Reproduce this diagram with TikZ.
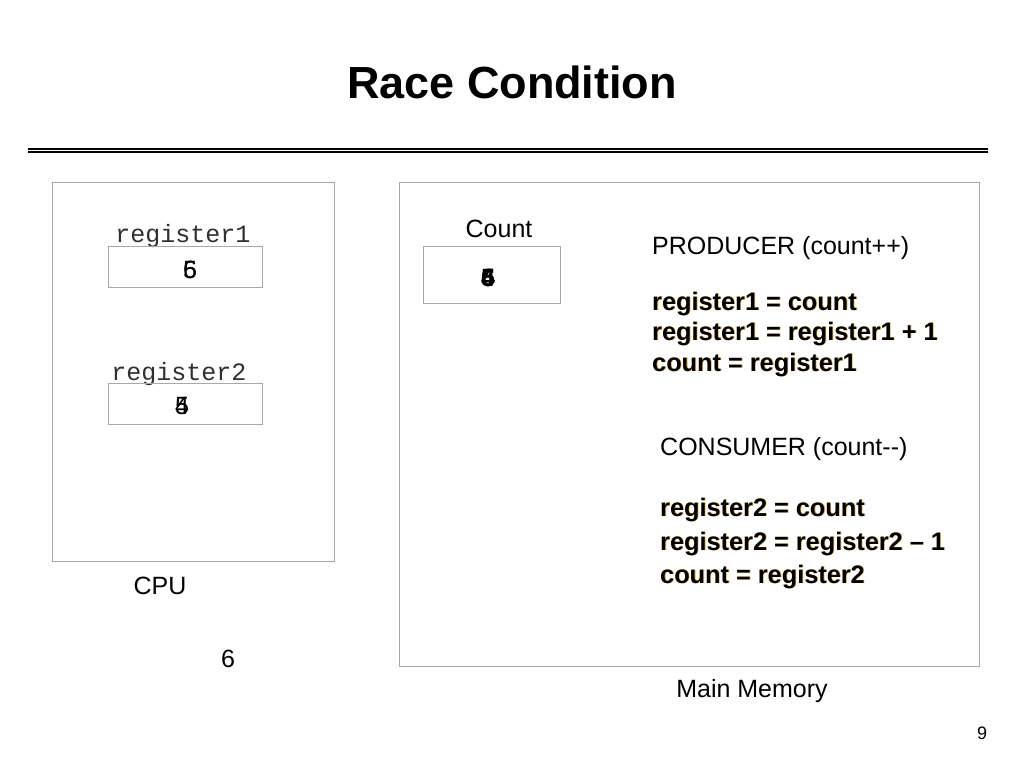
\documentclass[tikz,border=0pt]{standalone}
\usepackage{fontspec}
\setmainfont{Liberation Sans}
\setmonofont{Liberation Mono}
\definecolor{boxgray}{HTML}{A8A8A8}
\definecolor{shadoworange}{HTML}{E8B040}
\definecolor{monotext}{HTML}{303030}
\newcommand{\ovl}[2]{\rlap{#1}#2}
\begin{document}
\begin{tikzpicture}[x=1pt,y=-1pt,
  frame/.style={draw=boxgray,line width=1pt},
  txt/.style={inner sep=0pt,font=\fontsize{25}{30}\selectfont},
  mono/.style={inner sep=0pt,text=monotext,font=\fontsize{25}{30}\selectfont\ttfamily},
  code/.style={inner sep=0pt,font=\fontsize{25.3}{30}\selectfont\bfseries,anchor=base west},
  codeshadow/.style={code,text=shadoworange}]
\useasboundingbox[fill=white] (0,0) rectangle (1024,768);
% title
\node[inner sep=0pt,anchor=base,font=\fontsize{45}{54}\selectfont\bfseries] (title) at (512,98) {Race Condition};
\draw[line width=2pt] (28,148.5) coordinate (r1a) -- (988,148.5) coordinate (r1b);
\draw[line width=1.2pt] (28,152) coordinate (r2a) -- (988,152) coordinate (r2b);
% CPU
\node[frame,minimum width=282pt,minimum height=379pt,inner sep=0pt] (cpu) at (193,371.5) {};
\node[mono,anchor=base] (r1lab) at (183,242) {register1};
\node[frame,minimum width=154pt,minimum height=41pt,inner sep=0pt] (r1box) at (185,266.5) {};
\node[txt,anchor=base] (r1val) at (190,278) {\ovl{5}{6}};
\node[mono,anchor=base] (r2lab) at (179,380) {register2};
\node[frame,minimum width=154pt,minimum height=41pt,inner sep=0pt] (r2box) at (185,403.5) {};
\node[txt,anchor=base] (r2val) at (182,414) {\ovl{4}{5}};
\node[txt,anchor=base] (cpulab) at (160,594) {CPU};
\node[txt,anchor=base] (six) at (228,667) {6};
% Memory
\node[frame,minimum width=580pt,minimum height=484pt,inner sep=0pt] (mem) at (689,424) {};
\node[txt,anchor=base] (countlab) at (499,237) {Count};
\node[frame,minimum width=137pt,minimum height=57pt,inner sep=0pt] (countbox) at (491.5,274.5) {};
\node[txt,anchor=base,font=\fontsize{25}{30}\selectfont\bfseries] (countval) at (488,286) {\ovl{4}{\ovl{5}{6}}};
\node[txt,anchor=base west] (prod) at (652,254) {PRODUCER (count++)};
\foreach \y/\t [count=\i] in {310/{register1 = count},340/{register1 = register1 + 1},371/{count = register1}} {
  \node[codeshadow] (ps\i) at (652.8,\y+0.8) {\t};
  \node[code] (p\i) at (652,\y) {\t};
}
\node[txt,anchor=base west] (cons) at (660,455) {CONSUMER (count-{}-)};
\foreach \y/\t [count=\i] in {516/{register2 = count},550/{register2 = register2 -- 1},583/{count = register2}} {
  \node[codeshadow] (cs\i) at (660.8,\y+0.8) {\t};
  \node[code] (c\i) at (660,\y) {\t};
}
\node[txt,anchor=base] (memlab) at (752,697) {Main Memory};
\node[inner sep=0pt,anchor=base,font=\fontsize{18}{22}\selectfont] (page) at (982,739) {9};
\end{tikzpicture}
\end{document}
